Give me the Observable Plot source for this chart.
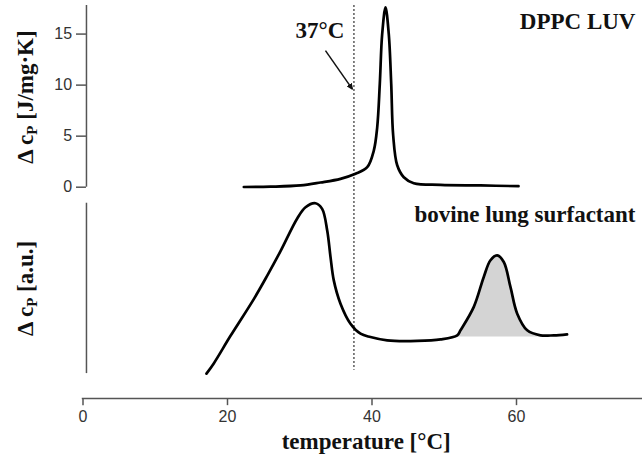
<!DOCTYPE html>
<html>
<head>
<meta charset="utf-8">
<script src="https://cdn.jsdelivr.net/npm/d3@7"></script>
<script src="https://cdn.jsdelivr.net/npm/@observablehq/plot@0.6"></script>
<style>
  html, body { margin: 0; padding: 0; background: #fff; }
</style>
</head>
<body>
<div id="chart"></div>
<script>
// ---- Data ----
// Top panel: DPPC LUV, Δc_P in J/(mg·K)
const dppcTemp = [22.26, 25.95, 30.1, 32.87, 35.64, 37.72, 39.34, 40.25, 40.72, 41.08, 41.41, 41.87, 42.32, 42.66, 42.93, 43.49, 44.4, 45.78, 49.48, 55.02, 60.28];
const dppcCp   = [0.02, 0.05, 0.17, 0.46, 0.82, 1.31, 1.96, 3.59, 5.87, 10.12, 15.01, 17.61, 15.01, 10.12, 5.09, 2.15, 0.98, 0.39, 0.23, 0.17, 0.1];

// Bottom panel: bovine lung surfactant, Δc_P in arbitrary units
const blsTemp = [17.09, 18.1, 20.42, 23.64, 25.5, 27.34, 29.65, 30.8, 32.18, 33.1, 33.8, 34.26, 34.71, 35.64, 37.02, 38.41, 39.79, 42.1, 46.26, 49.5, 51.8, 52.25, 54.09, 55.47, 56.4, 57.33, 58.24, 59.17, 60.1, 61.48, 63.32, 65.16, 67.0];
const blsCp   = [0.0, 1.0, 3.7, 7.3, 9.6, 12.0, 15.2, 16.3, 16.69, 16.14, 14.02, 11.41, 9.13, 6.85, 4.89, 3.91, 3.58, 3.25, 3.2, 3.35, 3.75, 4.24, 6.54, 9.47, 11.1, 11.58, 10.93, 8.47, 5.87, 4.24, 3.75, 3.75, 3.85];

const xTicks = [0, 20, 40, 60];
const yTicksTop = [0, 5, 10, 15];
const bodyTemp = 37.5;            // dashed line position
const shadeRange = [51.8, 63.32]; // shaded high-temperature peak
const shadeBase = 3.58;           // baseline of shaded area (a.u.)

// ---- Layout helpers (panel placement in the shared y coordinate) ----
const topMax = 17.8;
const bottomOffset = -18.26;   // bottom panel shifted below top panel
const bottomMax = 16.69;
const xAxisY = -20.7;

const dppcData = dppcTemp.map((t, i) => ({t, v: dppcCp[i]}));
const blsData = blsTemp.map((t, i) => ({t, v: blsCp[i] + bottomOffset}));
const shadeData = blsData.filter(d => d.t >= shadeRange[0] && d.t <= shadeRange[1]);

const serif = "'Liberation Serif', 'Times New Roman', serif";
const sans = "'Liberation Sans', Arial, sans-serif";
const axisColor = "#555";

const chart = Plot.plot({
  width: 642,
  height: 464,
  margin: 0,
  x: {domain: [0, 77.44], range: [82.5, 642], axis: null},
  y: {domain: [0, topMax], range: [186.7, 5], axis: null},
  style: {background: "#fff", overflow: "visible"},
  marks: [
    Plot.areaY(shadeData, {x: "t", y1: () => shadeBase + bottomOffset, y2: "v", fill: "#d4d4d4", curve: "catmull-rom"}),
    Plot.ruleX([0.48], {y1: 0, y2: topMax, stroke: axisColor, strokeWidth: 1.5}),
    Plot.ruleX([0.48], {y1: bottomOffset, y2: bottomOffset + bottomMax, stroke: axisColor, strokeWidth: 1.5}),
    Plot.ruleY(yTicksTop, {x1: -0.9, x2: 0.48, stroke: axisColor, strokeWidth: 1.5}),
    Plot.text(yTicksTop, {x: -1.5, y: d => d, text: d => String(d), textAnchor: "end", lineAnchor: "middle", fontSize: 16, fontFamily: sans, fill: "#333"}),
    Plot.ruleY([xAxisY], {x1: -0.1, x2: 77.44, stroke: axisColor, strokeWidth: 1.5}),
    Plot.ruleX(xTicks, {y1: xAxisY, y2: xAxisY - 0.7, stroke: axisColor, strokeWidth: 1.5}),
    Plot.text(xTicks, {x: d => d, y: xAxisY - 1.78, text: d => String(d), lineAnchor: "middle", fontSize: 16, fontFamily: sans, fill: "#333"}),
    Plot.ruleX([bodyTemp], {y1: topMax, y2: -17.94, stroke: "#333", strokeWidth: 1.2, strokeDasharray: "2,2"}),
    Plot.line(dppcData, {x: "t", y: "v", stroke: "#000", strokeWidth: 2.7, curve: "catmull-rom"}),
    Plot.line(blsData, {x: "t", y: "v", stroke: "#000", strokeWidth: 2.7, curve: "catmull-rom"}),
    Plot.link([{x1: 33.56, y1: 13.38, x2: 37.26, y2: 9.63}], {x1: "x1", y1: "y1", x2: "x2", y2: "y2", stroke: "#111", strokeWidth: 1.5, markerEnd: "arrow"}),
    Plot.text(["37°C"], {x: 29.41, y: 14.65, text: d => d, textAnchor: "start", lineAnchor: "bottom", fontSize: 23, fontWeight: "bold", fontFamily: serif, fill: "#111"}),
    Plot.text(["DPPC LUV"], {x: 76.47, y: 15.5, text: d => d, textAnchor: "end", lineAnchor: "bottom", fontSize: 23, fontWeight: "bold", fontFamily: serif, fill: "#111"}),
    Plot.text(["bovine lung surfactant"], {x: 76.47, y: -3.42, text: d => d, textAnchor: "end", lineAnchor: "bottom", fontSize: 23, fontWeight: "bold", fontFamily: serif, fill: "#111"}),
    Plot.text(["temperature [°C]"], {x: 39.2, y: -25.6, text: d => d, lineAnchor: "bottom", fontSize: 23, fontWeight: "bold", fontFamily: serif, fill: "#111"}),
    Plot.text(["Δ cP [J/mg·K]"], {x: -7.96, y: 8.83, text: d => d, rotate: -90, lineAnchor: "middle", fontSize: 23, fontWeight: "bold", fontFamily: serif, fill: "#111"}),
    Plot.text(["Δ cP [a.u.]"], {x: -7.96, y: -9.91, text: d => d, rotate: -90, lineAnchor: "middle", fontSize: 23, fontWeight: "bold", fontFamily: serif, fill: "#111"})
  ]
});

// filled arrowhead like the reference
chart.querySelectorAll("marker path").forEach(p => {
  p.setAttribute("d", "M-7,-3L0,0L-7,3Z");
  p.setAttribute("fill", "#111");
  p.setAttribute("stroke", "#111");
});

// subscript P in the axis titles
chart.querySelectorAll("text").forEach(el => {
  const s = el.textContent;
  if (s.startsWith("Δ cP")) {
    const rest = s.slice(4);
    while (el.firstChild) el.removeChild(el.firstChild);
    const ns = "http://www.w3.org/2000/svg";
    const a = document.createElementNS(ns, "tspan"); a.textContent = "Δ c";
    const b = document.createElementNS(ns, "tspan"); b.textContent = "P";
    b.setAttribute("font-size", "15"); b.setAttribute("dy", "4");
    const c = document.createElementNS(ns, "tspan"); c.textContent = rest;
    c.setAttribute("dy", "-4");
    el.append(a, b, c);
  }
});

document.getElementById("chart").appendChild(chart);
</script>
</body>
</html>
